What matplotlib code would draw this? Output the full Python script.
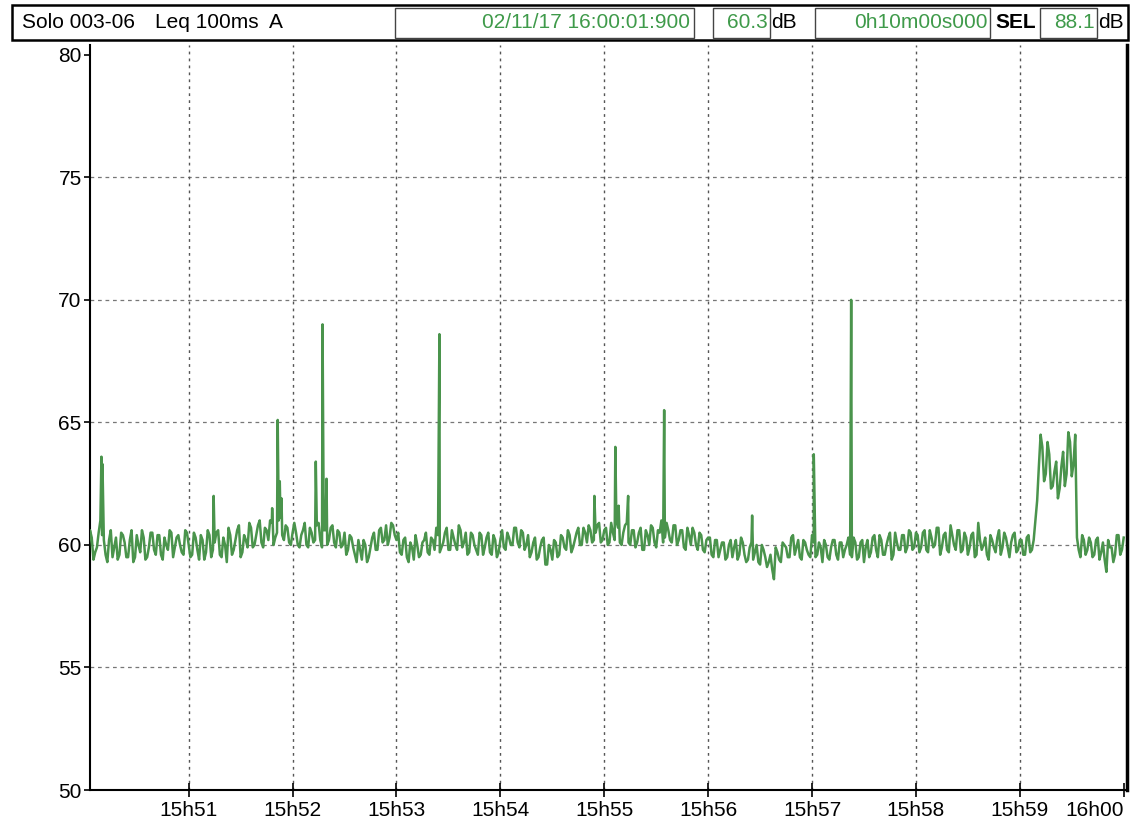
import numpy as np
import matplotlib
matplotlib.use("Agg")
import matplotlib.pyplot as plt
from matplotlib.patches import Rectangle

plt.rcParams['font.family'] = ['Liberation Sans', 'DejaVu Sans']

# Leq 100ms A read at even seconds after 15h50:00 (t = 2, 4, ... 600), one list per minute
m0 = [59.4, 60.3, 59.7, 60.5, 60.4, 59.6, 60.2, 59.5, 60.3, 59.6, 60.4, 59.5, 60.2, 59.3, 60.4,
      59.7, 60.3, 59.5, 60.5, 59.8, 60.4, 59.6, 60.3, 59.8, 60.5, 59.9, 60.4, 59.7, 60.6, 60.0]
m1 = [59.6, 60.3, 59.4, 60.2, 59.7, 60.4, 59.8, 60.5, 59.6, 60.3, 59.3, 60.4, 59.8, 60.6, 59.5,
      60.4, 59.9, 60.7, 60.0, 60.8, 60.1, 60.7, 60.2, 60.9, 60.3, 61.0, 60.4, 60.8, 60.1, 60.5]
m2 = [60.5, 59.9, 60.6, 60.0, 60.7, 60.1, 60.8, 60.2, 60.6, 60.0, 60.7, 60.1, 60.6, 59.9, 60.5,
      59.8, 60.3, 59.6, 60.2, 59.4, 60.0, 59.5, 60.3, 59.8, 60.6, 60.1, 60.8, 60.3, 60.8, 60.2]
m3 = [59.7, 60.2, 59.5, 60.1, 59.4, 60.0, 59.6, 60.2, 59.7, 60.3, 59.8, 60.4, 59.9, 60.5, 59.8,
      60.6, 60.0, 60.8, 59.9, 60.5, 59.7, 60.4, 59.8, 60.5, 59.6, 60.3, 59.7, 60.4, 59.5, 60.2]
m4 = [59.9, 60.5, 60.0, 60.7, 60.1, 60.6, 59.8, 60.4, 59.7, 60.3, 59.5, 60.2, 59.2, 60.0, 59.4,
      60.1, 59.6, 60.3, 59.8, 60.4, 59.9, 60.5, 60.0, 60.7, 60.1, 60.6, 60.2, 60.8, 60.1, 60.6]
m5 = [60.0, 60.9, 60.2, 60.7, 60.0, 60.8, 60.1, 60.6, 59.9, 60.5, 59.8, 60.6, 60.0, 60.7, 59.9,
      60.5, 60.1, 60.9, 60.2, 60.8, 60.0, 60.6, 59.9, 60.7, 60.0, 60.5, 59.8, 60.4, 59.7, 60.3]
m6 = [59.6, 60.2, 59.5, 60.1, 59.4, 60.0, 59.5, 60.2, 59.6, 60.1, 59.3, 59.9, 59.4, 60.0, 59.2,
      59.8, 59.1, 59.6, 58.6, 59.7, 59.3, 60.0, 59.5, 60.3, 59.6, 60.2, 59.4, 60.1, 59.6, 60.4]
m7 = [59.5, 60.1, 59.3, 60.0, 59.4, 60.2, 59.6, 60.1, 59.5, 60.0, 59.6, 60.3, 59.4, 60.1, 59.3,
      60.2, 59.7, 60.4, 59.5, 60.2, 59.6, 60.3, 59.4, 60.5, 59.8, 60.4, 59.7, 60.6, 59.8, 60.5]
m8 = [59.7, 60.5, 59.8, 60.6, 59.9, 60.7, 59.6, 60.4, 59.8, 60.8, 60.0, 60.6, 59.7, 60.5, 59.6,
      60.4, 59.5, 60.9, 59.8, 60.3, 59.4, 60.2, 59.7, 60.6, 59.9, 60.3, 59.5, 60.4, 59.7, 60.2]
m9 = [59.6, 60.3, 59.7, 60.2, 61.8, 64.5, 62.6, 64.2, 62.3, 63.0, 61.9, 63.2, 62.4, 64.6, 62.8,
      64.5, 59.8, 60.4, 59.6, 60.3, 59.5, 60.2, 59.4, 60.1, 58.9, 59.9, 59.3, 60.4, 59.6, 60.3]

# readings at odd seconds (t = 1, 3, ... 599)
o0 = [60.0, 60.6, 59.4, 59.9, 61.0, 60.2, 59.3, 60.6, 59.9, 59.4, 60.5, 60.1, 59.5, 60.6, 59.5,
      60.0, 60.6, 59.4, 59.9, 60.5, 59.6, 60.4, 59.4, 60.0, 60.6, 59.5, 60.3, 60.0, 59.6, 60.5]
o1 = [59.5, 60.5, 59.8, 60.4, 59.4, 60.6, 59.5, 60.1, 60.6, 59.5, 60.0, 60.7, 59.6, 60.2, 60.8,
      59.7, 60.2, 60.9, 59.9, 60.4, 61.0, 59.9, 60.6, 61.0, 60.0, 60.5, 61.1, 60.2, 60.7, 60.0]
o2 = [60.9, 60.0, 60.4, 60.9, 59.9, 60.5, 60.2, 60.9, 59.9, 60.6, 60.2, 60.8, 59.9, 60.5, 60.0,
      59.6, 60.4, 59.9, 59.3, 59.8, 60.2, 59.3, 59.9, 60.5, 59.8, 60.7, 60.2, 60.0, 60.9, 60.4]
o3 = [60.5, 59.6, 60.3, 59.3, 59.9, 60.4, 59.5, 60.1, 60.5, 59.6, 60.2, 60.7, 59.7, 60.1, 60.7,
      59.8, 60.3, 59.8, 60.6, 60.1, 59.6, 60.5, 60.0, 59.6, 60.4, 59.9, 60.5, 59.6, 60.2, 59.7]
o4 = [60.6, 59.8, 60.3, 60.0, 60.7, 59.9, 60.5, 60.0, 59.5, 60.1, 59.4, 59.9, 60.3, 59.2, 59.8,
      60.2, 59.5, 60.4, 59.9, 60.6, 59.7, 60.2, 60.7, 60.0, 60.5, 60.8, 60.1, 60.5, 60.9, 60.2]
o5 = [60.7, 60.1, 60.5, 61.0, 60.1, 60.5, 60.9, 60.0, 60.6, 60.1, 60.7, 59.8, 60.4, 60.8, 60.1,
      60.6, 61.0, 60.3, 60.6, 60.1, 60.8, 60.2, 60.6, 59.8, 60.4, 60.7, 60.0, 60.5, 59.8, 60.2]
o6 = [60.3, 59.5, 60.2, 59.8, 60.1, 59.5, 60.2, 59.9, 59.4, 60.3, 59.6, 59.4, 60.1, 59.7, 59.3,
      60.0, 59.5, 59.3, 59.0, 59.9, 59.4, 60.1, 59.9, 59.5, 60.4, 59.9, 59.5, 60.2, 59.8, 59.5]
o7 = [60.1, 59.6, 59.9, 60.2, 59.5, 59.9, 60.2, 59.4, 60.1, 59.8, 60.3, 59.5, 60.1, 59.5, 60.2,
      59.9, 59.5, 60.3, 59.8, 60.4, 59.6, 60.0, 60.5, 59.6, 60.1, 59.8, 60.4, 59.9, 60.5, 59.9]
o8 = [60.4, 59.9, 60.6, 59.7, 60.3, 60.0, 60.7, 59.9, 60.5, 59.7, 60.4, 59.8, 60.6, 59.8, 60.3,
      59.9, 60.5, 59.6, 60.2, 60.0, 59.6, 60.4, 59.9, 60.3, 59.6, 60.5, 59.9, 60.1, 60.5, 59.8]
o9 = [60.2, 59.6, 60.4, 59.8, 61.0, 63.2, 64.0, 62.9, 63.7, 62.4, 63.4, 62.3, 63.8, 62.9, 64.2,
      63.3, 60.3, 59.5, 60.2, 59.8, 60.1, 59.6, 60.3, 59.7, 59.4, 60.2, 59.9, 59.6, 60.4, 59.8]

# short events (time in s after 15h50:00, level dB)
spike_t = [9.6, 10.2, 74.4, 108.2, 111.4, 112.6, 113.6, 133.4, 137.3, 139.6, 204.8,
           294.3, 306.4, 308.3, 313.8, 334.6, 385.4, 421.0, 442.6]
spike_db = [63.6, 63.3, 62.0, 61.5, 65.1, 62.6, 61.9, 63.4, 69.0, 62.7, 68.6,
            62.0, 64.0, 61.6, 62.0, 65.5, 61.2, 63.7, 70.0]

tick_labels = ['15h51', '15h52', '15h53', '15h54', '15h55', '15h56', '15h57', '15h58', '15h59', '16h00']
y_ticks = [50, 55, 60, 65, 70, 75, 80]

even = np.concatenate([m0, m1, m2, m3, m4, m5, m6, m7, m8, m9])
odd = np.concatenate([o0, o1, o2, o3, o4, o5, o6, o7, o8, o9])
t_even = np.arange(2, 2 * len(even) + 1, 2)
t_odd = np.arange(1, 2 * len(odd), 2)
t_all = np.concatenate([t_even, t_odd, spike_t])
db_all = np.concatenate([even, odd, spike_db])
order = np.argsort(t_all, kind='stable')

W, H = 1133, 822
fig = plt.figure(figsize=(W / 100, H / 100), dpi=100)
fig.patch.set_facecolor('white')

def fx(x):
    return x / W

def fy(y):
    return 1 - y / H

ax = fig.add_axes([fx(90), fy(790), fx(1127) - fx(90), fy(45) - fy(790)])
ax.plot(t_all[order], db_all[order], color='#4a944c', lw=1.8, zorder=3)

ax.set_xlim(3, 601.9)
ax.set_ylim(50, 80.4)
ax.set_yticks(y_ticks)
ax.set_yticklabels([str(v) for v in y_ticks], fontsize=15)
ax.set_xticks([60 * (i + 1) for i in range(len(tick_labels))])
ax.set_xticklabels(tick_labels, fontsize=15)
ax.get_xticklabels()[-1].set_horizontalalignment('right')
ax.tick_params(axis='y', direction='out', length=4, width=1.2, pad=2)
ax.tick_params(axis='x', direction='inout', length=10, width=1.2, pad=3)

for v in [55, 60, 65, 70, 75]:
    ax.axhline(v, color='#777777', lw=0.9, ls=(0, (3, 3)), zorder=1)
for k in range(1, 10):
    ax.axvline(60 * k, color='#555555', lw=1.0, ls=(0, (2, 3)), zorder=1)

ax.spines['top'].set_visible(False)
for s in ['left', 'bottom']:
    ax.spines[s].set_linewidth(1.5)
    ax.spines[s].set_color('black')
ax.spines['right'].set_linewidth(2.5)

# header bar
green = '#3f9a4a'
fig.patches.append(Rectangle((fx(12), fy(40)), fx(1128) - fx(12), fy(5) - fy(40),
                             transform=fig.transFigure, fill=False, ec='black', lw=1.8))
for x0, x1 in [(395, 694), (713, 770), (815, 990), (1040, 1097)]:
    fig.patches.append(Rectangle((fx(x0), fy(38)), fx(x1) - fx(x0), fy(8) - fy(38),
                                 transform=fig.transFigure, fill=False, ec='#444444', lw=1.0))
yc = fy(23)
fs = 15
fig.text(fx(22), yc, 'Solo 003-06', fontsize=fs, va='center', ha='left')
fig.text(fx(155), yc, 'Leq 100ms  A', fontsize=fs, va='center', ha='left')
fig.text(fx(690), yc, '02/11/17 16:00:01:900', fontsize=fs, va='center', ha='right', color=green)
fig.text(fx(768), yc, '60.3', fontsize=fs, va='center', ha='right', color=green)
fig.text(fx(771), yc, 'dB', fontsize=fs, va='center', ha='left')
fig.text(fx(988), yc, '0h10m00s000', fontsize=fs, va='center', ha='right', color=green)
fig.text(fx(995), yc, 'SEL', fontsize=fs, va='center', ha='left', fontweight='bold')
fig.text(fx(1095), yc, '88.1', fontsize=fs, va='center', ha='right', color=green)
fig.text(fx(1098), yc, 'dB', fontsize=fs, va='center', ha='left')

fig.savefig('out.png', dpi=100)
